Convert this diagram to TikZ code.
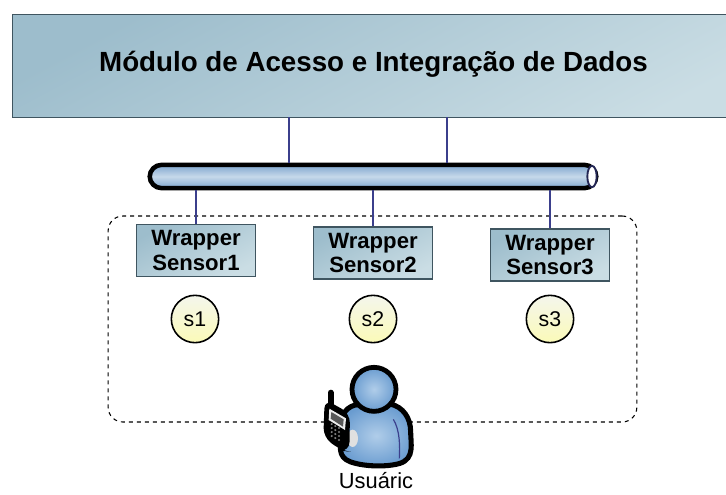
\documentclass[tikz,border=0pt]{standalone}
\usepackage{fontspec}
\setmainfont{Liberation Sans}
\usetikzlibrary{shapes.geometric,backgrounds}
\definecolor{boxedge}{HTML}{3F5560}
\definecolor{linkblue}{HTML}{3B3F8C}
\definecolor{boxa}{HTML}{9DBDCC}
\definecolor{boxb}{HTML}{CADDE4}
\definecolor{sena}{HTML}{F4F6EC}
\definecolor{senb}{HTML}{FBFAB8}
\definecolor{busa}{HTML}{7FA5CE}
\definecolor{busb}{HTML}{C6D9EA}
\definecolor{bodya}{HTML}{B0CDE9}
\definecolor{bodyb}{HTML}{6A9CD0}
\tikzset{
  px/.style={x=0.75pt,y=-0.75pt},
  boxfill/.style={draw=boxedge,line width=1pt,left color=boxa,right color=boxb,shading angle=28},
  wrapper/.style={boxfill,minimum width=89.25pt,minimum height=39pt,inner sep=0pt,align=center,
    font=\bfseries\fontsize{16.6}{18.2}\selectfont,text=black},
  sensor/.style={circle,draw=black,line width=1.2pt,minimum size=35.5pt,inner sep=0pt,
    top color=sena,bottom color=senb,font=\fontsize{16}{18}\selectfont},
  link/.style={draw=linkblue,line width=1.5pt},
  bodyshade/.style={inner color=bodya,outer color=bodyb},
}
\begin{document}
\begin{tikzpicture}[px]
\useasboundingbox (0,0) rectangle (726,494);
\fill[white] (0,0) rectangle (726,494);
% dashed container
\node[draw=black,dashed,line width=0.8pt,rounded corners=11pt,minimum width=396.5pt,minimum height=154.5pt,inner sep=0pt] (area) at (372.5,319) {};
% top module
\begin{scope}
\clip (0,0) rectangle (726,494);
\node[boxfill,minimum width=570pt,minimum height=77pt,inner sep=0pt,anchor=north west] (modulo) at (12,14) {};
\end{scope}
\node[font=\bfseries\fontsize{20.8}{24}\selectfont] (titulo) at (373.5,64) {Módulo de Acesso e Integração de Dados};
% links
\coordinate (t1) at (288.5,117);
\coordinate (t2) at (446.5,117);
% bus
\node[draw=black,line width=3.4pt,rounded corners=9pt,minimum width=335pt,minimum height=17.5pt,inner sep=0pt,
  top color=busa,bottom color=busa,middle color=busb] (bus) at (373,176.5) {};
\node[ellipse,draw=linkblue!60!black,line width=1.4pt,fill=white,minimum width=7pt,minimum height=16pt,inner sep=0pt] (cap) at (592,176.5) {};
% wrappers
\node[wrapper] (w1) at (196,250.5) {Wrapper\\Sensor1};
\node[wrapper] (w2) at (373,253) {Wrapper\\Sensor2};
\node[wrapper] (w3) at (550,255) {Wrapper\\Sensor3};
% sensors
\node[sensor] (s1) at (195,319) {s1};
\node[sensor] (s2) at (373,319) {s2};
\node[sensor] (s3) at (550,319) {s3};
\draw[link] (t1) -- (t1 |- bus.north);
\draw[link] (t2) -- (t2 |- bus.north);
\draw[link] (w1.north) -- (w1.north |- bus.south);
\draw[link] (w2.north) -- (w2.north |- bus.south);
\draw[link] (w3.north) -- (w3.north |- bus.south);
% user icon
\begin{scope}[shift={(300,350)},x=0.25pt,y=-0.25pt]
  \fill[bodyshade,draw=black,line width=3.8pt,line join=round]
    (165,165) .. controls (130,175) and (120,205) .. (122,250)
    .. controls (122,290) and (112,320) .. (150,335)
    .. controls (190,350) and (260,352) .. (300,340)
    .. controls (345,325) and (332,280) .. (332,245)
    .. controls (332,205) and (310,170) .. (270,162)
    -- cycle;
  \fill[white!88!black] (158,265) ellipse (16 and 26);
  \draw[linkblue,line width=0.9pt] (172,167) .. controls (195,185) and (240,185) .. (262,167);
  \draw[linkblue,line width=0.9pt] (280,208) .. controls (300,240) and (300,290) .. (298,325);
  \fill[bodyshade,draw=black,line width=3.6pt] (222,118) circle (66);
  % phone
  \draw[black,line width=4.5pt,line cap=round] (92,128) -- (92,165);
  \fill[black,rounded corners=7pt] (74,148) -- (150,190) -- (148,305) -- (125,302) -- (70,262) -- cycle;
  \fill[white!85!gray] (88,176) -- (138,205) -- (135,240) -- (86,210) -- cycle;
  \fill[gray!70!black] (94,186) -- (131,208) -- (129,230) -- (92,206) -- cycle;
  \foreach \i in {0,1,2}{\foreach \j in {0,1,2,3}{
    \fill[gray] ({95+\i*11},{222+\j*12+\i*6}) circle (3.5);}}
\end{scope}
% label
\node[font=\fontsize{16.4}{18}\selectfont,anchor=base,inner sep=0pt] (usr) at (376,488.5) {Usuáric};
\end{tikzpicture}
\end{document}
